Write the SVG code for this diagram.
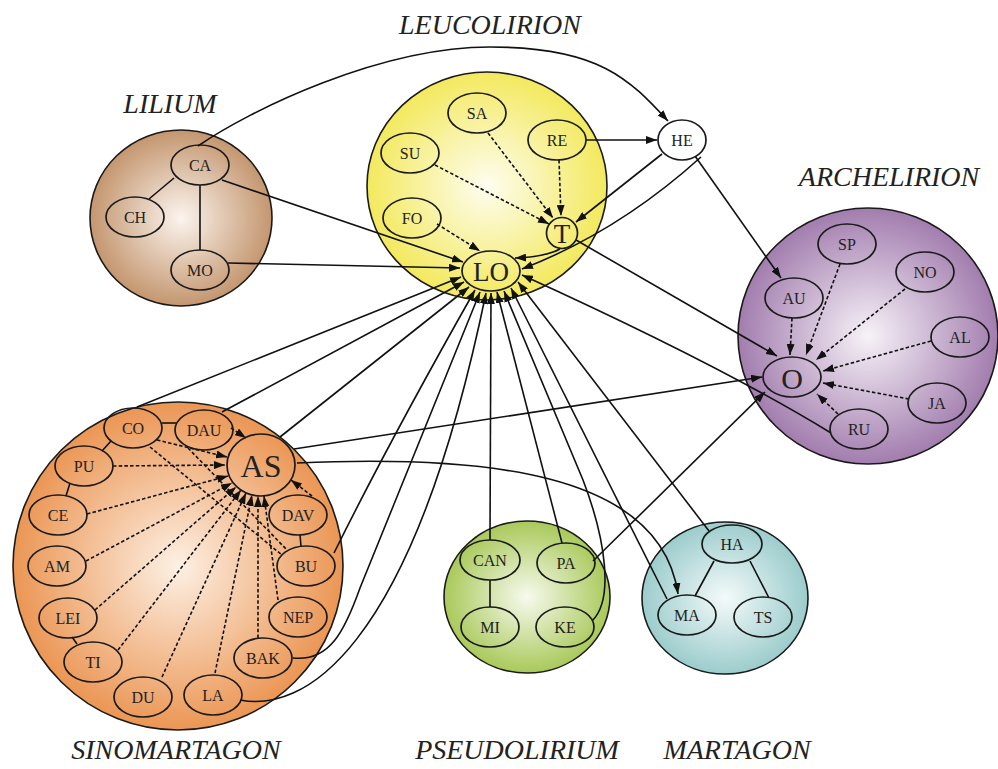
<svg xmlns="http://www.w3.org/2000/svg" width="998" height="769" viewBox="0 0 998 769">
<defs>
<radialGradient id="gLil" cx="50%" cy="50%" r="50%"><stop offset="0" stop-color="#fbf4ee"/><stop offset="1" stop-color="#c4966f"/></radialGradient>
<radialGradient id="gLeu" cx="50%" cy="50%" r="50%"><stop offset="0" stop-color="#fefdf0"/><stop offset="1" stop-color="#f3e95e"/></radialGradient>
<radialGradient id="gArc" cx="50%" cy="50%" r="50%"><stop offset="0" stop-color="#f7f2f8"/><stop offset="1" stop-color="#a27dae"/></radialGradient>
<radialGradient id="gSin" cx="50%" cy="50%" r="50%"><stop offset="0" stop-color="#fdf0e4"/><stop offset="1" stop-color="#eb9654"/></radialGradient>
<radialGradient id="gPse" cx="50%" cy="50%" r="50%"><stop offset="0" stop-color="#f7faee"/><stop offset="1" stop-color="#a9c95a"/></radialGradient>
<radialGradient id="gMar" cx="50%" cy="50%" r="50%"><stop offset="0" stop-color="#f4fafa"/><stop offset="1" stop-color="#9ccccc"/></radialGradient>
<marker id="ah" markerUnits="userSpaceOnUse" markerWidth="11" markerHeight="8" refX="11" refY="4" orient="auto" viewBox="0 0 11 8"><path d="M0,0 L11,4 L0,8 Z" fill="#111"/></marker>
</defs>
<style>
.cl{stroke:#1a1a1a;stroke-width:1.6}
.n{fill:none;stroke:#1a1a1a;stroke-width:1.7}
.t{font-family:"Liberation Serif","Times New Roman",serif;font-size:16px;fill:#222;text-anchor:middle;dominant-baseline:central}
.big{font-size:27px}
.lab{font-family:"Liberation Serif","Times New Roman",serif;font-style:italic;font-size:28px;fill:#222;text-anchor:middle}
.e{fill:none;stroke:#111;stroke-width:1.6}
.a{marker-end:url(#ah)}
.d{stroke-dasharray:3.5 2.2}
</style>
<rect width="998" height="769" fill="#ffffff"/>

<!-- clusters -->
<g id="lilium">
<ellipse class="cl" cx="181" cy="218" rx="91" ry="88" fill="url(#gLil)"/>
<text class="lab" x="170" y="113">LILIUM</text>
</g>
<g id="leucolirion">
<ellipse class="cl" cx="487" cy="186" rx="120" ry="114" fill="url(#gLeu)"/>
<text class="lab" x="490" y="34">LEUCOLIRION</text>
</g>
<g id="archelirion">
<ellipse class="cl" cx="868" cy="336" rx="130" ry="128" fill="url(#gArc)"/>
<text class="lab" x="889" y="186">ARCHELIRION</text>
</g>
<g id="sinomartagon">
<ellipse class="cl" cx="178" cy="566" rx="165" ry="164" fill="url(#gSin)"/>
<text class="lab" x="176" y="759">SINOMARTAGON</text>
</g>
<g id="pseudolirium">
<ellipse class="cl" cx="527" cy="597" rx="83" ry="76" fill="url(#gPse)"/>
<text class="lab" x="517" y="759">PSEUDOLIRIUM</text>
</g>
<g id="martagon">
<ellipse class="cl" cx="725" cy="598" rx="83" ry="76" fill="url(#gMar)"/>
<text class="lab" x="737" y="759">MARTAGON</text>
</g>

<!-- connectors -->
<g id="connectors">
<!-- Lilium -->
<line class="e" x1="174" y1="178" x2="149" y2="199"/>
<line class="e" x1="200" y1="185" x2="200" y2="250"/>
<path class="e a" d="M198,146 C250,110 380,47 490,47 S630,80 668,121"/>
<path class="e a" d="M222,180 L463,262"/>
<path class="e a" d="M228,263 L460,268"/>
<!-- Leucolirion -->
<path class="e a d" d="M435,165 L549,224"/>
<path class="e a d" d="M488,133 L553,218"/>
<path class="e a d" d="M559,160 L561,216"/>
<path class="e a d" d="M437,224 L480,251"/>
<path class="e a" d="M586,140 L657,140"/>
<path class="e a" d="M662,154 L576,222"/>
<path class="e a" d="M560,249 Q545,257 515,258"/>
<path class="e a" d="M701,157 Q618,232 522,269"/>
<path class="e a" d="M695,156 L781,278"/>
<path class="e a" d="M576,240 L777,356"/>
<!-- Archelirion -->
<path class="e a d" d="M792,318 L790,355"/>
<path class="e a d" d="M840,264 L806,355"/>
<path class="e a d" d="M905,289 L816,360"/>
<path class="e a d" d="M931,341 L823,371"/>
<path class="e a d" d="M909,399 L823,383"/>
<path class="e a d" d="M838,414 L817,394"/>
<path class="e a" d="M831,433 Q720,365 522,275"/>
<!-- Sinomartagon ring -->
<line class="e" x1="162" y1="423" x2="176" y2="423"/>
<line class="e" x1="111" y1="441" x2="102" y2="451"/>
<line class="e" x1="70" y1="483" x2="66" y2="496"/>
<line class="e" x1="72" y1="637" x2="77" y2="644"/>
<line class="e" x1="300" y1="535" x2="301" y2="546"/>
<!-- Sinomartagon to AS -->
<path class="e a d" d="M231,428 L246,438"/>
<path class="e a d" d="M157,440 L227,457"/>
<path class="e a d" d="M113,466 L225,465"/>
<path class="e a d" d="M87,514 L228,476"/>
<path class="e a d" d="M86,561 L232,483"/>
<path class="e a d" d="M95,610 L236,487"/>
<path class="e a d" d="M118,650 L241,490"/>
<path class="e a d" d="M162,677 L246,493"/>
<path class="e a d" d="M215,673 L252,495"/>
<path class="e a d" d="M258,638 L258,496"/>
<path class="e a d" d="M278,600 L264,496"/>
<path class="e a d" d="M312,496 L291,480"/>
<path class="e d" d="M150,447 L282,555"/>
<path class="e d" d="M188,448 L287,550"/>
<!-- to LO from south-west -->
<path class="e a" d="M137,407 L461,277"/>
<path class="e a" d="M222,412 L464,282"/>
<path class="e a" d="M280,437 L469,287"/>
<path class="e a" d="M334,553 Q390,440 475,290"/>
<path class="e a" d="M293,658 C330,662 345,630 360,588 L480,292"/>
<path class="e a" d="M240,700 C300,712 410,660 486,293"/>
<!-- AS outgoing -->
<path class="e a" d="M294,449 L762,377"/>
<path class="e a" d="M297,463 C480,455 660,470 678,594"/>
<!-- Pseudolirium -->
<line class="e" x1="490" y1="580" x2="490" y2="607"/>
<path class="e a" d="M490,540 L491,293"/>
<path class="e a" d="M562,543 L497,292"/>
<path class="e a" d="M592,621 C614,600 606,540 583,480 L504,291"/>
<path class="e a" d="M593,561 L765,392"/>
<!-- Martagon -->
<line class="e" x1="714" y1="561" x2="695" y2="596"/>
<line class="e" x1="750" y1="561" x2="769" y2="598"/>
<path class="e a" d="M667,599 L511,288"/>
<path class="e a" d="M709,531 L518,282"/>
</g>

<!-- nodes -->
<g id="n-CA"><ellipse class="n" cx="200" cy="165" rx="29" ry="20"/><text class="t" x="200" y="165">CA</text></g>
<g id="n-CH"><ellipse class="n" cx="135" cy="217" rx="29" ry="20"/><text class="t" x="135" y="217">CH</text></g>
<g id="n-MO"><ellipse class="n" cx="200" cy="270" rx="29" ry="20"/><text class="t" x="200" y="270">MO</text></g>

<g id="n-SA"><ellipse class="n" cx="477" cy="113" rx="29" ry="20"/><text class="t" x="477" y="113">SA</text></g>
<g id="n-RE"><ellipse class="n" cx="557" cy="140" rx="29" ry="20"/><text class="t" x="557" y="140">RE</text></g>
<g id="n-SU"><ellipse class="n" cx="410" cy="153" rx="29" ry="20"/><text class="t" x="410" y="153">SU</text></g>
<g id="n-FO"><ellipse class="n" cx="412" cy="218" rx="29" ry="20"/><text class="t" x="412" y="218">FO</text></g>
<g id="n-T"><circle class="n" cx="562" cy="233" r="15.5"/><text class="t big" x="562" y="234">T</text></g>
<g id="n-LO"><ellipse class="n" cx="491" cy="271" rx="29" ry="20"/><text class="t big" x="491" y="272">LO</text></g>
<g id="n-HE"><ellipse cx="682" cy="140" rx="24" ry="20" fill="#ffffff" stroke="#1a1a1a" stroke-width="1.7"/><text class="t" x="682" y="140">HE</text></g>

<g id="n-SP"><ellipse class="n" cx="847" cy="244" rx="29" ry="20"/><text class="t" x="847" y="244">SP</text></g>
<g id="n-NO"><ellipse class="n" cx="925" cy="272" rx="29" ry="20"/><text class="t" x="925" y="272">NO</text></g>
<g id="n-AU"><ellipse class="n" cx="794" cy="298" rx="29" ry="20"/><text class="t" x="794" y="298">AU</text></g>
<g id="n-AL"><ellipse class="n" cx="960" cy="337" rx="29" ry="20"/><text class="t" x="960" y="337">AL</text></g>
<g id="n-O"><ellipse class="n" cx="792" cy="377" rx="29" ry="20"/><text class="t" x="792" y="378" style="font-size:30px">O</text></g>
<g id="n-JA"><ellipse class="n" cx="937" cy="403" rx="29" ry="20"/><text class="t" x="937" y="403">JA</text></g>
<g id="n-RU"><ellipse class="n" cx="859" cy="429" rx="29" ry="20"/><text class="t" x="859" y="429">RU</text></g>

<g id="n-CO"><ellipse class="n" cx="133" cy="428" rx="29" ry="20"/><text class="t" x="133" y="428">CO</text></g>
<g id="n-DAU"><ellipse class="n" cx="204" cy="430" rx="29" ry="20"/><text class="t" x="204" y="430">DAU</text></g>
<g id="n-AS"><ellipse class="n" cx="261" cy="465" rx="34" ry="31"/><text class="t" x="261" y="466" style="font-size:32px">AS</text></g>
<g id="n-PU"><ellipse class="n" cx="84" cy="466" rx="29" ry="20"/><text class="t" x="84" y="466">PU</text></g>
<g id="n-CE"><ellipse class="n" cx="58" cy="515" rx="29" ry="20"/><text class="t" x="58" y="515">CE</text></g>
<g id="n-DAV"><ellipse class="n" cx="298" cy="515" rx="29" ry="20"/><text class="t" x="298" y="515">DAV</text></g>
<g id="n-AM"><ellipse class="n" cx="57" cy="566" rx="29" ry="20"/><text class="t" x="57" y="566">AM</text></g>
<g id="n-BU"><ellipse class="n" cx="306" cy="566" rx="29" ry="20"/><text class="t" x="306" y="566">BU</text></g>
<g id="n-LEI"><ellipse class="n" cx="68" cy="618" rx="29" ry="20"/><text class="t" x="68" y="618">LEI</text></g>
<g id="n-NEP"><ellipse class="n" cx="298" cy="617" rx="29" ry="20"/><text class="t" x="298" y="617">NEP</text></g>
<g id="n-TI"><ellipse class="n" cx="93" cy="662" rx="29" ry="20"/><text class="t" x="93" y="662">TI</text></g>
<g id="n-BAK"><ellipse class="n" cx="263" cy="658" rx="29" ry="20"/><text class="t" x="263" y="658">BAK</text></g>
<g id="n-DU"><ellipse class="n" cx="143" cy="697" rx="29" ry="20"/><text class="t" x="143" y="697">DU</text></g>
<g id="n-LA"><ellipse class="n" cx="213" cy="695" rx="29" ry="20"/><text class="t" x="213" y="695">LA</text></g>

<g id="n-CAN"><ellipse class="n" cx="490" cy="560" rx="30" ry="20"/><text class="t" x="490" y="560">CAN</text></g>
<g id="n-PA"><ellipse class="n" cx="566" cy="563" rx="29" ry="20"/><text class="t" x="566" y="563">PA</text></g>
<g id="n-MI"><ellipse class="n" cx="490" cy="627" rx="29" ry="20"/><text class="t" x="490" y="627">MI</text></g>
<g id="n-KE"><ellipse class="n" cx="565" cy="627" rx="29" ry="20"/><text class="t" x="565" y="627">KE</text></g>

<g id="n-HA"><ellipse class="n" cx="732" cy="544" rx="30" ry="19"/><text class="t" x="732" y="544">HA</text></g>
<g id="n-MA"><ellipse class="n" cx="687" cy="615" rx="29" ry="20"/><text class="t" x="687" y="615">MA</text></g>
<g id="n-TS"><ellipse class="n" cx="763" cy="617" rx="29" ry="20"/><text class="t" x="763" y="617">TS</text></g>
</svg>
